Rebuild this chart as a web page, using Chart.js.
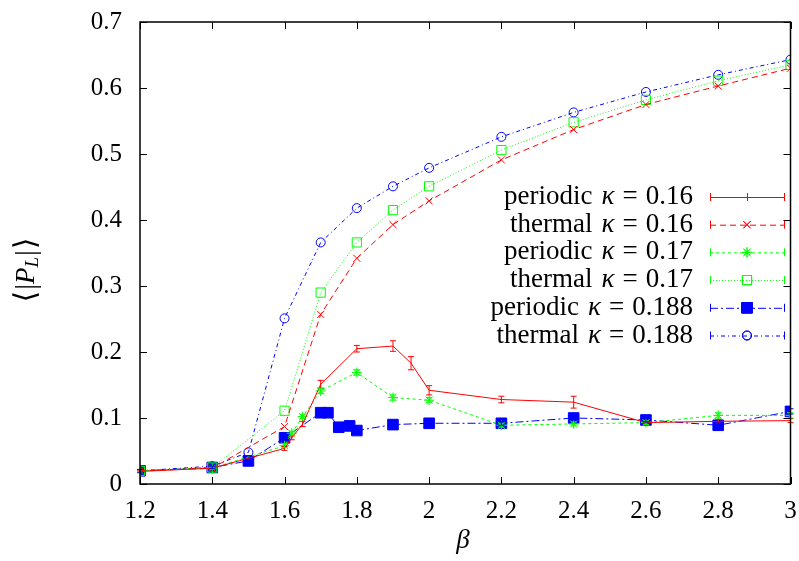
<!DOCTYPE html>
<html>
<head>
<meta charset="utf-8">
<script src="https://cdn.jsdelivr.net/npm/chart.js@4/dist/chart.umd.min.js"></script>
<style>
  body { margin: 0; background: #fff; }
  #wrap { width: 799px; height: 561px; }
</style>
</head>
<body>
<div id="wrap"><canvas id="myChart" width="799" height="561"></canvas></div>
<script>
// data
const betaP16 = [1.2, 1.4, 1.6, 1.62, 1.65, 1.7, 1.8, 1.9, 1.95, 2.0, 2.2, 2.4, 2.6, 2.8, 3.0];
const valP16  = [0.019, 0.024, 0.054, 0.07, 0.091, 0.151, 0.205, 0.209, 0.183, 0.142, 0.128, 0.124, 0.093, 0.095, 0.096];
const errP16  = [0.002, 0.002, 0.003, 0.003, 0.004, 0.006, 0.005, 0.008, 0.010, 0.007, 0.005, 0.009, 0.003, 0.003, 0.003];

const betaT16 = [1.2, 1.4, 1.6, 1.7, 1.8, 1.9, 2.0, 2.2, 2.4, 2.6, 2.8, 3.0];
const valT16  = [0.020, 0.024, 0.087, 0.257, 0.342, 0.393, 0.429, 0.491, 0.537, 0.575, 0.603, 0.630];

const betaP17 = [1.2, 1.4, 1.6, 1.62, 1.65, 1.7, 1.8, 1.9, 2.0, 2.2, 2.4, 2.6, 2.8, 3.0];
const valP17  = [0.020, 0.024, 0.058, 0.077, 0.102, 0.141, 0.169, 0.131, 0.127, 0.089, 0.091, 0.093, 0.104, 0.104];
const errP17  = [0.002, 0.002, 0.003, 0.003, 0.003, 0.004, 0.004, 0.004, 0.004, 0.003, 0.003, 0.003, 0.004, 0.004];

const betaT17 = [1.2, 1.4, 1.6, 1.7, 1.8, 1.9, 2.0, 2.2, 2.4, 2.6, 2.8, 3.0];
const valT17  = [0.020, 0.025, 0.111, 0.290, 0.366, 0.415, 0.451, 0.506, 0.548, 0.582, 0.611, 0.635];

const betaP188 = [1.2, 1.4, 1.5, 1.6, 1.7, 1.72, 1.75, 1.78, 1.8, 1.9, 2.0, 2.2, 2.4, 2.6, 2.8, 3.0];
const valP188  = [0.020, 0.025, 0.035, 0.070, 0.108, 0.108, 0.086, 0.088, 0.081, 0.090, 0.092, 0.092, 0.100, 0.097, 0.089, 0.110];
const errP188  = [0.002, 0.002, 0.002, 0.003, 0.003, 0.003, 0.003, 0.003, 0.003, 0.003, 0.003, 0.003, 0.003, 0.003, 0.003, 0.004];

const betaT188 = [1.2, 1.4, 1.5, 1.6, 1.7, 1.8, 1.9, 2.0, 2.2, 2.4, 2.6, 2.8, 3.0];
const valT188  = [0.020, 0.027, 0.048, 0.251, 0.366, 0.418, 0.451, 0.479, 0.526, 0.563, 0.594, 0.620, 0.643];

const legendLabels = [
  ['periodic', '0.16'], ['thermal', '0.16'],
  ['periodic', '0.17'], ['thermal', '0.17'],
  ['periodic', '0.188'], ['thermal', '0.188']
];

const SERIF = '"Liberation Serif", "DejaVu Serif", serif';

function pts(xs, ys) {
  return xs.map((x, i) => ({ x: x, y: ys[i] }));
}

function series(label, xs, ys, color, dash, style, radius, fill, errs) {
  return {
    label: label,
    data: pts(xs, ys),
    errs: errs || null,
    borderColor: color,
    backgroundColor: fill ? color : 'rgba(0,0,0,0)',
    pointBorderColor: color,
    pointBackgroundColor: fill ? color : 'rgba(0,0,0,0)',
    borderWidth: 1,
    borderDash: dash,
    pointStyle: style,
    pointRadius: radius,
    pointBorderWidth: 1,
    pointHoverRadius: radius,
    tension: 0,
    fill: false
  };
}

const RED = '#ff0000', GREEN = '#00ff00', BLUE = '#0000ff';

const datasets = [
  series('periodic 0.16', betaP16, valP16, RED, [], 'line', 0, false, errP16),
  series('thermal 0.16', betaT16, valT16, RED, [6, 4], 'crossRot', 5, false),
  series('periodic 0.17', betaP17, valP17, GREEN, [3, 3], 'star', 5, false, errP17),
  series('thermal 0.17', betaT17, valT17, GREEN, [1, 2], 'rect', 6.5, false),
  series('periodic 0.188', betaP188, valP188, BLUE, [8, 3, 2, 3], 'rect', 7.5, true, errP188),
  series('thermal 0.188', betaT188, valT188, BLUE, [4, 3, 1, 3], 'circle', 4.5, false)
];

// draws a row of [text, font, dy, gap] pieces starting at x
function drawPieces(c, parts, x, y) {
  parts.forEach(p => {
    c.font = p[1];
    c.fillText(p[0], x, y + (p[2] || 0));
    x += c.measureText(p[0]).width + (p[3] || 0);
  });
}
function piecesWidth(c, parts) {
  let w = 0;
  parts.forEach(p => { c.font = p[1]; w += c.measureText(p[0]).width + (p[3] || 0); });
  return w;
}

// error bars, inward ticks, frame, legend and axis titles
const decorations = {
  id: 'decorations',
  afterDatasetsDraw(chart) {
    const c = chart.ctx;
    const xs = chart.scales.x, ys = chart.scales.y;
    c.save();
    chart.data.datasets.forEach(ds => {
      if (!ds.errs) return;
      c.strokeStyle = ds.borderColor;
      c.lineWidth = 1;
      c.setLineDash([]);
      ds.data.forEach((p, i) => {
        const px = xs.getPixelForValue(p.x);
        const y1 = ys.getPixelForValue(p.y - ds.errs[i]);
        const y2 = ys.getPixelForValue(p.y + ds.errs[i]);
        c.beginPath();
        c.moveTo(px, y1); c.lineTo(px, y2);
        c.moveTo(px - 3, y1); c.lineTo(px + 3, y1);
        c.moveTo(px - 3, y2); c.lineTo(px + 3, y2);
        c.stroke();
      });
    });
    c.restore();
  },
  afterDraw(chart) {
    const c = chart.ctx;
    const a = chart.chartArea;
    const xs = chart.scales.x, ys = chart.scales.y;
    c.save();
    c.setLineDash([]);
    c.strokeStyle = '#000';
    c.lineWidth = 1;
    c.beginPath();
    xs.ticks.forEach(t => {
      const px = Math.round(xs.getPixelForValue(t.value)) + 0.5;
      c.moveTo(px, a.bottom); c.lineTo(px, a.bottom - 7);
      c.moveTo(px, a.top); c.lineTo(px, a.top + 7);
    });
    ys.ticks.forEach(t => {
      const py = Math.round(ys.getPixelForValue(t.value)) + 0.5;
      c.moveTo(a.left, py); c.lineTo(a.left + 7, py);
      c.moveTo(a.right, py); c.lineTo(a.right - 7, py);
    });
    c.stroke();
    c.lineWidth = 1.5;
    c.strokeRect(a.left, a.top, a.right - a.left, a.bottom - a.top);

    // legend
    const rowY0 = 197, rowGap = 27.7;
    const F = '27px ' + SERIF, FI = 'italic 27px ' + SERIF;
    chart.data.datasets.forEach((ds, i) => {
      const y = rowY0 + i * rowGap;
      const [word, k] = legendLabels[i];
      const parts = [
        [word, F, 0, 9],
        ['\u03ba', FI, 0, 8],
        ['=', F, 0, 8],
        [k, F, 0, 0]
      ];
      c.fillStyle = '#000';
      c.textBaseline = 'middle';
      c.textAlign = 'left';
      drawPieces(c, parts, 693 - piecesWidth(c, parts), y);

      const x1 = 710, x2 = 784, xm = 747;
      c.strokeStyle = ds.borderColor;
      c.lineWidth = 1;
      c.setLineDash(ds.borderDash);
      c.beginPath(); c.moveTo(x1, y + 0.5); c.lineTo(x2, y + 0.5); c.stroke();
      c.setLineDash([]);
      c.beginPath();
      c.moveTo(x1 + 0.5, y - 4); c.lineTo(x1 + 0.5, y + 4);
      c.moveTo(x2 + 0.5, y - 4); c.lineTo(x2 + 0.5, y + 4);
      if (ds.errs && ds.pointRadius === 0) {
        c.moveTo(xm + 0.5, y - 4); c.lineTo(xm + 0.5, y + 4);
      }
      c.stroke();
      if (ds.pointRadius > 0) {
        c.fillStyle = ds.pointBackgroundColor;
        Chart.helpers.drawPoint(c, {
          pointStyle: ds.pointStyle, radius: ds.pointRadius, borderWidth: 1, rotation: 0
        }, xm, y);
        if (ds.pointBackgroundColor !== 'rgba(0,0,0,0)') c.fill();
        c.stroke();
      }
    });

    // axis titles
    c.fillStyle = '#000';
    c.textBaseline = 'middle';
    c.textAlign = 'center';
    c.font = 'italic 27px ' + SERIF;
    c.fillText('\u03b2', 463, 541);

    c.translate(27, 270);
    c.rotate(-Math.PI / 2);
    const yParts = [
      ['\u27e8', '30px "DejaVu Serif", serif', 0, 1],
      ['|', '29px ' + SERIF, 0, 0],
      ['P', 'italic 27px ' + SERIF, 0, 0],
      ['L', 'italic 19px ' + SERIF, 6, 1],
      ['|', '29px ' + SERIF, 0, 1],
      ['\u27e9', '30px "DejaVu Serif", serif', 0, 0]
    ];
    c.textAlign = 'left';
    drawPieces(c, yParts, -piecesWidth(c, yParts) / 2, 0);
    c.restore();
  }
};

const fmt = v => String(Number(v.toFixed(1)));

const ctx = document.getElementById('myChart').getContext('2d');
const chart = new Chart(ctx, {
  type: 'line',
  data: { datasets: datasets },
  options: {
    responsive: false,
    animation: false,
    devicePixelRatio: 1,
    layout: { padding: { left: 0, right: 7, top: 22, bottom: 0 } },
    plugins: { legend: { display: false }, tooltip: { enabled: false } },
    scales: {
      x: {
        type: 'linear', min: 1.2, max: 3.0,
        grid: { display: false, drawTicks: false },
        border: { display: false },
        ticks: { stepSize: 0.2, padding: 12, color: '#000', font: { family: SERIF, size: 25 }, callback: fmt, maxRotation: 0 },
        afterFit(s) { s.height = 77; s.paddingLeft = 0; s.paddingRight = 0; }
      },
      y: {
        min: 0, max: 0.7,
        grid: { display: false, drawTicks: false },
        border: { display: false },
        ticks: { stepSize: 0.1, padding: 18, color: '#000', font: { family: SERIF, size: 25 }, callback: fmt },
        afterFit(s) { s.width = 140; s.paddingTop = 0; s.paddingBottom = 0; }
      }
    }
  },
  plugins: [decorations]
});
</script>
</body>
</html>
